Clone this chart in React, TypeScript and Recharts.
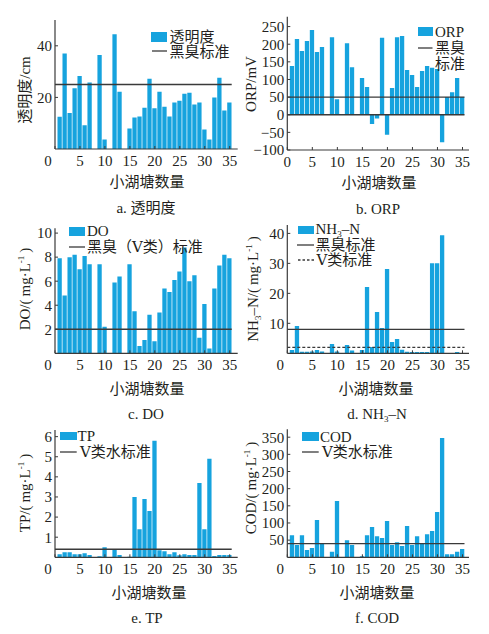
import React from 'react';
import { ComposedChart, Bar, XAxis, YAxis, ReferenceLine, Legend } from 'recharts';

const FONT = "'Liberation Serif','DejaVu Serif','Noto Sans CJK SC',serif";
const INK = '#231f20';
const BAR_COLOR = '#16a3de';
const LINE_COLOR = '#3a3a3a';
const FS = 15;

// categories: pond index
const pondNo = [1, 2, 3, 4, 5, 6, 7, 8, 9, 10, 11, 12, 13, 14, 15, 16, 17, 18, 19, 20, 21, 22, 23, 24, 25, 26, 27, 28, 29, 30, 31, 32, 33, 34, 35];
const xTicks = [0, 5, 10, 15, 20, 25, 30, 35];

// series values (null = not measured)
const transparency = [12.5, 37, 14, 23.5, 28.3, 9.2, 25.8, null, 36.4, 3.7, null, 44.5, 22.2, null, 7.9, 12.2, 12.6, 16, 27.2, 15.8, 22.2, 16.4, 12.6, 18, 18.7, 21.4, 21.8, 17.2, 18, 7.6, 3.7, 20, 27.6, 14.9, 18];
const orp = [138, 215, 181, 209, 240, 178, 192, null, 220, 44, null, 203, 135, null, 104, 79, -26, -11, 218, -57, 76, 220, 223, 127, 113, 79, 124, 138, 133, 130, -78, 50, 64, 104, 50];
const dissolvedOxygen = [7.9, 4.8, 8.0, 8.2, 7.0, 8.1, 7.4, null, 7.4, 2.2, null, 5.9, 6.4, null, 7.4, 3.5, 0.6, 1.1, 3.2, 1.0, 3.4, 5.4, 5.1, 6.1, 6.8, 8.8, 6.0, 6.5, 1.3, 4.1, 0.4, 5.4, 7.3, 8.2, 7.9];
const ammonia = [1.1, 9.1, 0.5, 0.5, 0.6, 1.1, 0.6, null, 3.1, 0.6, null, 2.8, 0.9, null, 1.1, 22.1, 2.1, 13.8, 8.4, 28.1, 3.8, 4.8, 1.2, 0.5, 0.4, 0.4, 0.4, 0.4, 30, 30, 39.4, null, null, 0.4, null];
const totalP = [0.15, 0.25, 0.25, 0.15, 0.15, 0.2, 0.12, null, 0.05, 0.5, null, 0.4, 0.12, null, 0.03, 3.0, 1.4, 2.9, 2.3, 5.8, 0.35, 0.3, 0.15, 0.25, 0.1, 0.15, 0.12, 0.12, 3.7, 1.4, 4.9, 0.06, 0.12, 0.12, 0.12];
const cod = [64, 36, 64, 21, 27, 109, 41, null, 16, 164, null, 50, 36, null, 3, 64, 88, 61, 56, 106, 36, 44, 33, 91, 36, 61, 41, 67, 77, 132, 348, 9, 9, 16, 24];

// standards
const stdTransparency = 25;
const stdOrp = 50;
const stdDo = 2;
const stdNh3Black = 8;
const stdNh3V = 2;
const stdTp = 0.4;
const stdCod = 40;

// y tick labels
const ticksA = [20, 40];
const ticksB = [-100, -50, 0, 50, 100, 150, 200, 250];
const ticksC = [2, 4, 6, 8, 10];
const ticksD = [10, 20, 30, 40];
const ticksE = [1, 2, 3, 4, 5, 6];
const ticksF = [50, 100, 150, 200, 250, 300, 350];

const toRows = (vals: (number | null)[]) => pondNo.map((p, i) => ({ pond: p, v: vals[i] }));

type LegendItem = {
  kind: 'bar' | 'line' | 'dash' | 'text';
  sx: number; sy: number; sw: number; sh?: number;
  tx: number; ty: number; label: React.ReactNode;
};

type RefL = { y: number; dash?: boolean; x0?: number; x1?: number };

type Panel = {
  left: number; top: number; width: number; height: number;
  margin: { top: number; right: number; bottom: number; left: number };
  yWidth: number;
  yDomain: [number, number];
  yTicks: number[];
  xDomain: [number, number];
  values: (number | null)[];
  lines: RefL[];
  legend: LegendItem[];
  shiftZero: boolean;
};

const Sup = ({ children }: { children: React.ReactNode }) => (
  <span style={{ fontSize: 9, position: 'relative', top: -6, lineHeight: 0 }}>{children}</span>
);
const Sub = ({ children }: { children: React.ReactNode }) => (
  <span style={{ fontSize: 9, position: 'relative', top: 3, lineHeight: 0 }}>{children}</span>
);

const XTick = (props: any) => {
  const { x, y, payload, shiftZero } = props;
  const v = payload.value;
  return (
    <text x={x + (shiftZero && v === 0 ? -7 : 0)} y={y} dy="0.71em" textAnchor="middle" fill={INK} fontSize={FS} fontFamily={FONT}>
      {v}
    </text>
  );
};

const fmtY = (v: number) => (v < 0 ? '\u2212' + Math.abs(v) : String(v));

const LegendBox = ({ items }: { items: LegendItem[] }) => (
  <div style={{ position: 'relative', width: 0, height: 0, fontFamily: FONT, fontSize: FS, color: INK }}>
    {items.map((it, i) => (
      <React.Fragment key={i}>
        {it.kind === 'bar' && (
          <div style={{ position: 'absolute', left: it.sx, top: it.sy, width: it.sw, height: it.sh, background: BAR_COLOR }} />
        )}
        {(it.kind === 'line' || it.kind === 'dash') && (
          <svg style={{ position: 'absolute', left: it.sx, top: it.sy - 2, overflow: 'visible' }} width={it.sw} height={4}>
            <line x1={0} x2={it.sw} y1={2} y2={2} stroke={LINE_COLOR} strokeWidth={1.3} strokeDasharray={it.kind === 'dash' ? '2.5 2' : undefined} />
          </svg>
        )}
        <div style={{ position: 'absolute', left: it.tx, top: it.ty, transform: 'translateY(-50%)', whiteSpace: 'nowrap', lineHeight: 1 }}>
          {it.label}
        </div>
      </React.Fragment>
    ))}
  </div>
);

const PanelChart = ({ p }: { p: Panel }) => {
  const data = toRows(p.values);
  return (
    <div style={{ position: 'absolute', left: p.left, top: p.top }}>
      <ComposedChart width={p.width} height={p.height} data={data} margin={p.margin}>
        <XAxis
          dataKey="pond"
          type="number"
          domain={p.xDomain}
          ticks={xTicks}
          interval={0}
          height={20}
          tickSize={-3}
          tickMargin={9}
          axisLine={{ stroke: LINE_COLOR, strokeWidth: 1.2 }}
          tickLine={{ stroke: LINE_COLOR }}
          tick={(tp: any) => <XTick {...tp} shiftZero={p.shiftZero} />}
          allowDataOverflow
        />
        <YAxis
          type="number"
          domain={p.yDomain}
          ticks={p.yTicks}
          interval={0}
          width={p.yWidth}
          tickSize={-3}
          tickMargin={6}
          axisLine={{ stroke: LINE_COLOR, strokeWidth: 1.2 }}
          tickLine={{ stroke: LINE_COLOR }}
          tick={{ fill: INK, fontSize: FS, fontFamily: FONT }}
          tickFormatter={fmtY}
          allowDataOverflow
        />
        <Bar dataKey="v" fill={BAR_COLOR} barSize={4.3} isAnimationActive={false} />
        {p.lines.map((l, i) => (
          <ReferenceLine
            key={i}
            segment={[{ x: l.x0 ?? 0, y: l.y }, { x: l.x1 ?? 35.4, y: l.y }]}
            stroke={LINE_COLOR}
            strokeWidth={1.3}
            strokeDasharray={l.dash ? '3 2' : undefined}
          />
        ))}
        <Legend
          content={() => <LegendBox items={p.legend} />}
          wrapperStyle={{ left: 0, top: 0, width: 0, height: 0, overflow: 'visible' }}
        />
      </ComposedChart>
    </div>
  );
};

const panels: Panel[] = [
  {
    left: 0, top: 0, width: 245, height: 215,
    margin: { top: 20, right: 7.3, bottom: 46, left: 10 }, yWidth: 45,
    yDomain: [0, 50], yTicks: ticksA, xDomain: [0, 36.6], values: transparency,
    lines: [{ y: stdTransparency }], shiftZero: true,
    legend: [
      { kind: 'bar', sx: 150.7, sy: 32.3, sw: 16, sh: 9.4, tx: 169.5, ty: 37, label: '透明度' },
      { kind: 'line', sx: 151.5, sy: 51.3, sw: 15, tx: 169.5, ty: 51.7, label: '黑臭标准' },
    ],
  },
  {
    left: 245, top: 0, width: 244, height: 215,
    margin: { top: 16.7, right: 20, bottom: 45, left: 6.3 }, yWidth: 36,
    yDomain: [-100, 278], yTicks: ticksB, xDomain: [0, 36.3], values: orp,
    lines: [{ y: stdOrp }, { y: 0 }], shiftZero: false,
    legend: [
      { kind: 'bar', sx: 172.7, sy: 27, sw: 15, sh: 8.5, tx: 190, ty: 31.5, label: 'ORP' },
      { kind: 'line', sx: 172.7, sy: 47.5, sw: 14.5, tx: 190, ty: 47.5, label: '黑臭' },
      { kind: 'text', sx: 0, sy: 0, sw: 0, tx: 190, ty: 63.7, label: '标准' },
    ],
  },
  {
    left: 0, top: 215, width: 245, height: 205,
    margin: { top: 13.3, right: 7.3, bottom: 46.7, left: 10 }, yWidth: 45,
    yDomain: [0, 10.4], yTicks: ticksC, xDomain: [0, 36.6], values: dissolvedOxygen,
    lines: [{ y: stdDo }], shiftZero: true,
    legend: [
      { kind: 'bar', sx: 69, sy: 11.7, sw: 16, sh: 9, tx: 87, ty: 15.7, label: 'DO' },
      { kind: 'line', sx: 69, sy: 32.3, sw: 16, tx: 87, ty: 32.3, label: '黑臭（Ⅴ类）标准' },
    ],
  },
  {
    left: 245, top: 215, width: 244, height: 205,
    margin: { top: 10, right: 20, bottom: 46.7, left: 6.3 }, yWidth: 36,
    yDomain: [0, 42.8], yTicks: ticksD, xDomain: [0, 36.3], values: ammonia,
    lines: [{ y: stdNh3Black }, { y: stdNh3V, dash: true }], shiftZero: true,
    legend: [
      { kind: 'bar', sx: 53.3, sy: 10.5, sw: 15.7, sh: 8, tx: 70.5, ty: 13.8, label: <span>NH<Sub>3</Sub>–N</span> },
      { kind: 'line', sx: 52, sy: 30, sw: 17, tx: 70.5, ty: 30.3, label: '黑臭标准' },
      { kind: 'dash', sx: 53, sy: 45, sw: 16, tx: 71.5, ty: 45.2, label: 'Ⅴ类标准' },
    ],
  },
  {
    left: 0, top: 420, width: 245, height: 214,
    margin: { top: 10, right: 7.3, bottom: 56.7, left: 10 }, yWidth: 45,
    yDomain: [0, 6.33], yTicks: ticksE, xDomain: [0, 36.6], values: totalP,
    lines: [{ y: stdTp }], shiftZero: true,
    legend: [
      { kind: 'bar', sx: 60, sy: 11.7, sw: 16.7, sh: 8.5, tx: 77.5, ty: 16, label: 'TP' },
      { kind: 'line', sx: 60, sy: 32.3, sw: 16.7, tx: 80, ty: 32.3, label: 'Ⅴ类水标准' },
    ],
  },
  {
    left: 245, top: 420, width: 244, height: 214,
    margin: { top: 9.3, right: 20, bottom: 56.7, left: 6.3 }, yWidth: 36,
    yDomain: [0, 373], yTicks: ticksF, xDomain: [0, 36.3], values: cod,
    lines: [{ y: stdCod }], shiftZero: true,
    legend: [
      { kind: 'bar', sx: 57.3, sy: 12.3, sw: 16.7, sh: 8.4, tx: 75, ty: 16.5, label: 'COD' },
      { kind: 'line', sx: 57.3, sy: 32.3, sw: 16.7, tx: 77, ty: 32.3, label: 'Ⅴ类水标准' },
    ],
  },
];

type TextPos = { x: number; y: number; node: React.ReactNode; rotate?: boolean };

const unit = <span>(&thinsp;mg·L<Sup>-1</Sup>&thinsp;)</span>;

const texts: TextPos[] = [
  { x: 25, y: 90, node: '透明度/cm', rotate: true },
  { x: 251, y: 84, node: 'ORP/mV', rotate: true },
  { x: 25, y: 289, node: <span>DO/{unit}</span>, rotate: true },
  { x: 253, y: 289, node: <span>NH<Sub>3</Sub>–N/{unit}</span>, rotate: true },
  { x: 25, y: 493, node: <span>TP/{unit}</span>, rotate: true },
  { x: 251, y: 488, node: <span>COD/{unit}</span>, rotate: true },
  { x: 147, y: 182, node: '小湖塘数量' },
  { x: 379, y: 183, node: '小湖塘数量' },
  { x: 147, y: 388.5, node: '小湖塘数量' },
  { x: 376, y: 388.5, node: '小湖塘数量' },
  { x: 149, y: 592.5, node: '小湖塘数量' },
  { x: 377, y: 592.5, node: '小湖塘数量' },
  { x: 146, y: 208, node: 'a. 透明度' },
  { x: 378, y: 208.5, node: 'b. ORP' },
  { x: 146, y: 414, node: 'c. DO' },
  { x: 377, y: 414, node: <span>d. NH<Sub>3</Sub>–N</span> },
  { x: 147, y: 617.5, node: 'e. TP' },
  { x: 377, y: 617.5, node: 'f. COD' },
];

export default function App() {
  return (
    <div style={{ position: 'absolute', left: 0, top: 0, width: 489, height: 634, background: '#fff', overflow: 'hidden', fontFamily: FONT, color: INK }}>
      {panels.map((p, i) => (
        <PanelChart key={i} p={p} />
      ))}
      {texts.map((t, i) => (
        <div
          key={'t' + i}
          style={{
            position: 'absolute', left: t.x, top: t.y,
            transform: t.rotate ? 'translate(-50%,-50%) rotate(-90deg)' : 'translate(-50%,-50%)',
            whiteSpace: 'nowrap', fontSize: FS, lineHeight: 1,
          }}
        >
          {t.node}
        </div>
      ))}
    </div>
  );
}
